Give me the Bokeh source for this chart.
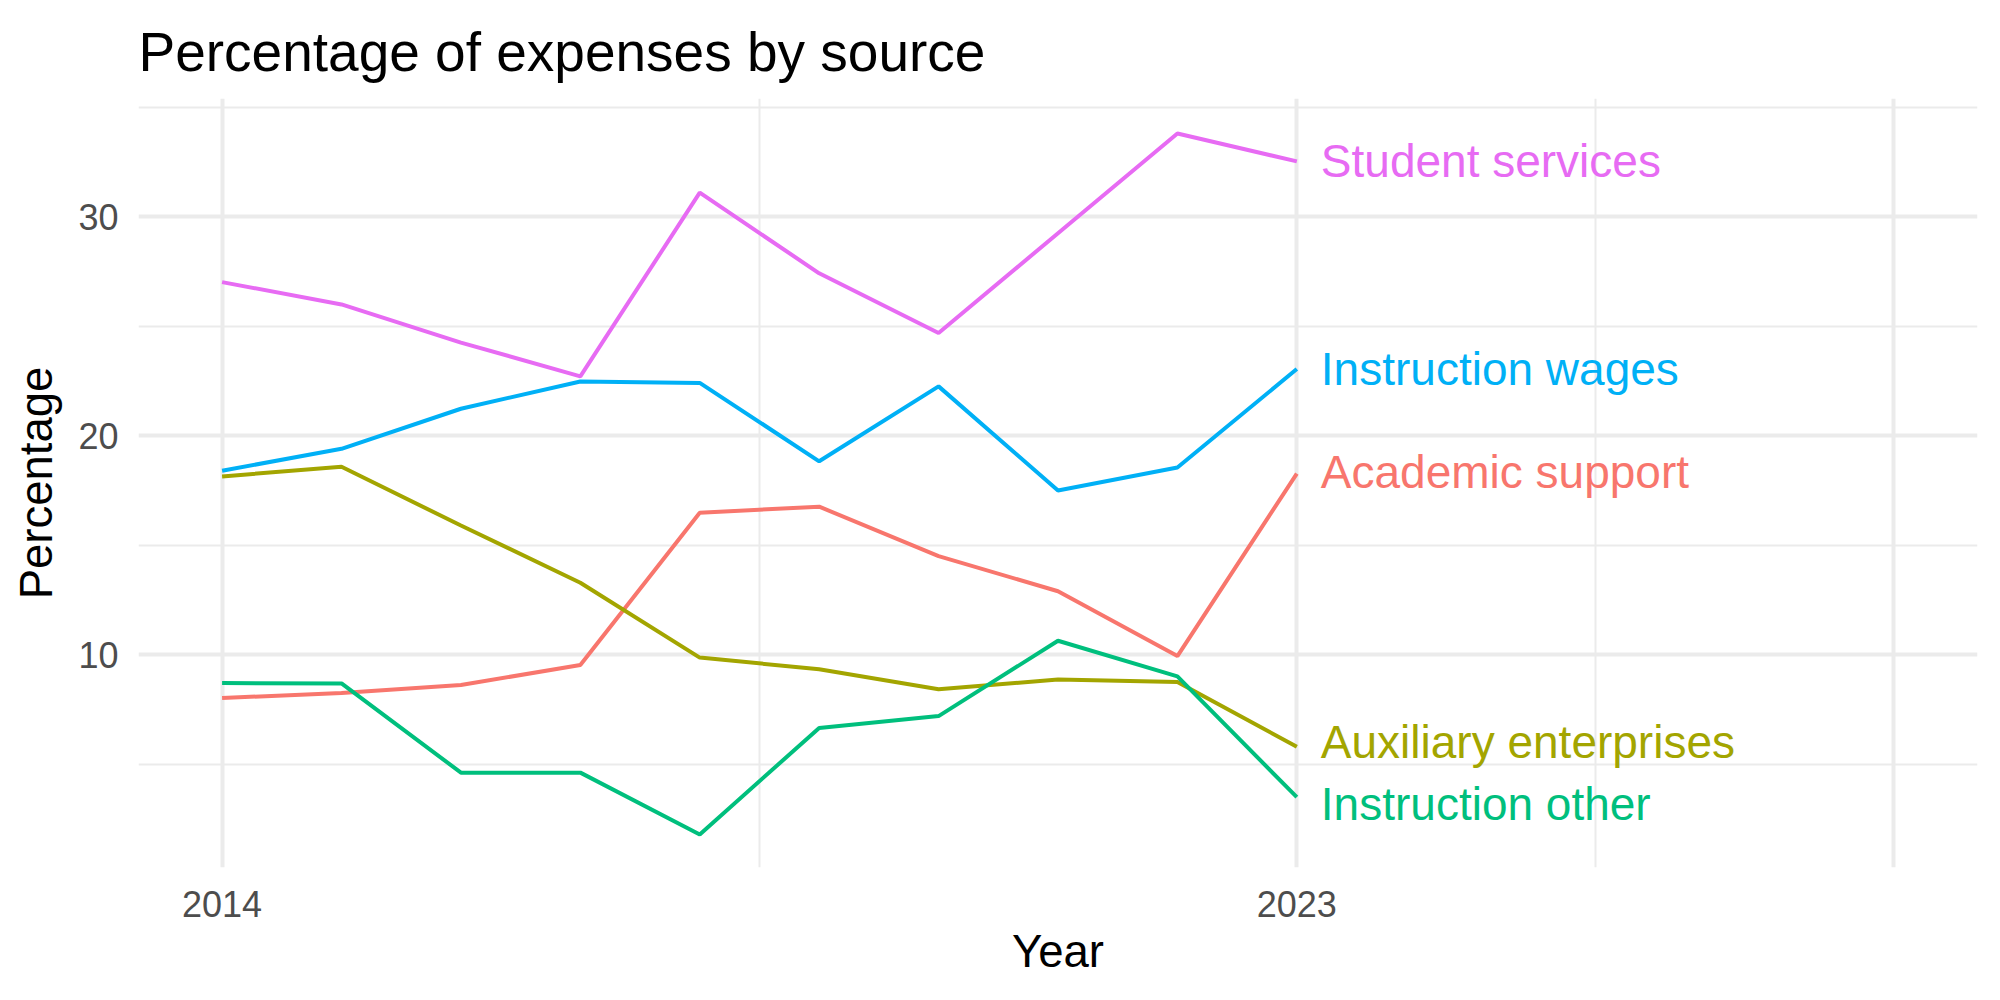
from bokeh.plotting import figure
from bokeh.models import Range1d, FixedTicker, ColumnDataSource
from bokeh.embed import file_html
from bokeh.resources import INLINE
from bokeh.core.properties import value

# ---- data ----
years = [2014, 2015, 2016, 2017, 2018, 2019, 2020, 2021, 2022, 2023]
series_names = ["Academic support", "Auxiliary enterprises", "Instruction other",
                "Instruction wages", "Student services"]
academic_support = [8.04, 8.26, 8.63, 9.54, 16.49, 16.77, 14.51, 12.91, 9.95, 18.28]
auxiliary_enterprises = [18.15, 18.59, 15.91, 13.30, 9.88, 9.35, 8.44, 8.88, 8.77, 5.81]
instruction_other = [8.72, 8.70, 4.63, 4.63, 1.81, 6.67, 7.21, 10.65, 9.02, 3.51]
instruction_wages = [18.41, 19.41, 21.24, 22.48, 22.42, 18.84, 22.26, 17.51, 18.56, 23.05]
student_services = [27.02, 26.00, 24.26, 22.72, 31.10, 27.42, 24.70, 29.25, 33.80, 32.53]
label_y = [18.33, 6.05, 3.19, 23.07, 32.56]   # repelled label positions
x_major_ticks = [2014, 2023, 2028]
x_tick_labels = {2014: "2014", 2023: "2023", 2028: ""}
x_minor_ticks = [2018.5, 2025.5]
y_major_ticks = [10, 20, 30]
y_minor_ticks = [5, 15, 25, 35]

colors = ["#F8766D", "#A3A500", "#00BF7D", "#00B0F6", "#E76BF3"]
all_series = [academic_support, auxiliary_enterprises, instruction_other,
              instruction_wages, student_services]

FONT = "Liberation Sans"

p = figure(width=2000, height=1000, output_backend="svg", toolbar_location=None,
           x_range=Range1d(2013.3, 2028.7), y_range=Range1d(0.3, 35.4),
           min_border_left=138, min_border_right=23, min_border_top=98,
           min_border_bottom=133, title="Percentage of expenses by source")

p.outline_line_color = None
p.background_fill_color = "white"
p.border_fill_color = "white"

# title
p.title.text_font = FONT
p.title.text_font_size = "55px"
p.title.text_font_style = "normal"
p.title.text_color = "black"
p.title.align = "left"
p.title.standoff = 32

# grids
for g in (p.xgrid, p.ygrid):
    g.grid_line_color = "#EBEBEB"
    g.grid_line_width = 4
    g.minor_grid_line_color = "#EBEBEB"
    g.minor_grid_line_width = 2

p.xaxis.ticker = FixedTicker(ticks=x_major_ticks, minor_ticks=x_minor_ticks)
p.yaxis.ticker = FixedTicker(ticks=y_major_ticks, minor_ticks=y_minor_ticks)
p.xaxis.major_label_overrides = x_tick_labels

for ax in (p.xaxis, p.yaxis):
    ax.axis_line_color = None
    ax.major_tick_line_color = None
    ax.minor_tick_line_color = None
    ax.major_tick_out = 0
    ax.major_tick_in = 0
    ax.minor_tick_out = 0
    ax.minor_tick_in = 0
    ax.major_label_text_font = FONT
    ax.major_label_text_font_size = "36px"
    ax.major_label_text_color = "#4D4D4D"
    ax.axis_label_text_font = FONT
    ax.axis_label_text_font_size = "45.5px"
    ax.axis_label_text_font_style = "normal"
    ax.axis_label_text_color = "black"

p.xaxis.axis_label = "Year"
p.yaxis.axis_label = "Percentage"
p.yaxis.major_label_standoff = 20
p.xaxis.major_label_standoff = 23
p.yaxis.axis_label_standoff = 13
p.xaxis.axis_label_standoff = 6

for name, vals, c in zip(series_names, all_series, colors):
    src = ColumnDataSource(dict(x=years, y=vals))
    p.line("x", "y", source=src, line_color=c, line_width=4)

lab_src = ColumnDataSource(dict(x=[years[-1]] * len(series_names), y=label_y,
                                text=series_names, color=colors))
p.text("x", "y", text="text", source=lab_src, text_color="color",
       text_font=value(FONT), text_font_size="46px", text_align="left",
       text_baseline="middle", x_offset=24)

open("out.html", "w").write(file_html(p, INLINE))
